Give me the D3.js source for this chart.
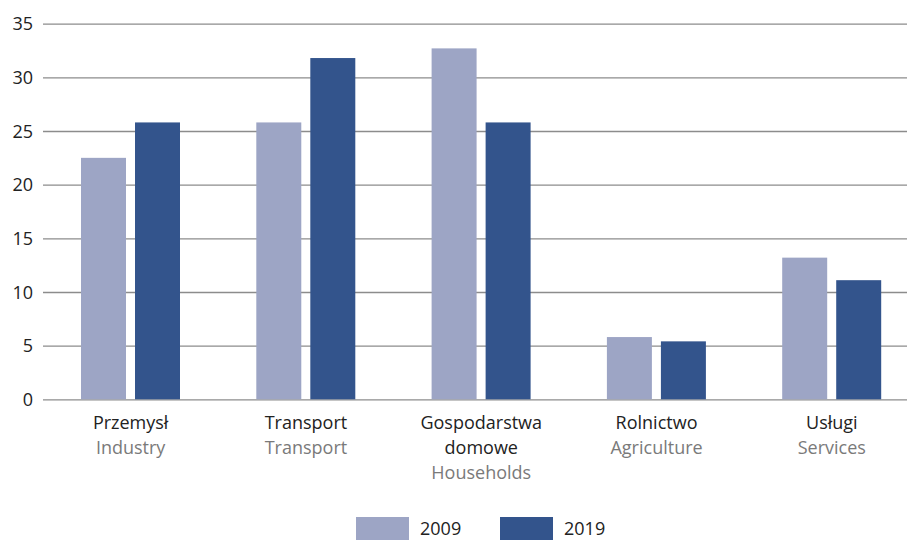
<!DOCTYPE html>
<html><head><meta charset="utf-8">
<script src="https://cdn.jsdelivr.net/npm/d3@7"></script>
<style>body{margin:0;background:#fff}svg{display:block}text{font-family:"Open Sans",sans-serif}</style>
</head><body>
<svg id="c" width="907" height="540"></svg>
<script>
const categoriesPL = [["Przemysł"], ["Transport"], ["Gospodarstwa", "domowe"], ["Rolnictwo"], ["Usługi"]];
const categoriesEN = ["Industry", "Transport", "Households", "Agriculture", "Services"];
const seriesNames = ["2009", "2019"];
const values2009 = [22.5, 25.8, 32.7, 5.8, 13.2];
const values2019 = [25.8, 31.8, 25.8, 5.4, 11.1];
const yTicks = [0, 5, 10, 15, 20, 25, 30, 35];
const colors = ["#9da5c5", "#33548c"];

const svg = d3.select("#c");
const x0 = d3.scaleBand().domain(d3.range(categoriesEN.length)).range([43, 919.5]).paddingInner(0).paddingOuter(0);
const x1 = d3.scaleBand().domain([0, 1]).range([38, 137]).paddingInner(0.167).paddingOuter(0);
const y = d3.scaleLinear().domain([0, 35]).range([399.3, 23.7]);

// gridlines
const yAxis = d3.axisLeft(y).tickValues(yTicks).tickSize(-(907 - 43)).tickPadding(10).tickFormat(d3.format("d"));
const g = svg.append("g").attr("transform", "translate(43,0)").call(yAxis);
g.select(".domain").remove();
g.selectAll(".tick line").attr("stroke", "#8c8c8c").attr("stroke-width", 1.3);
g.selectAll(".tick text").attr("font-size", 18).attr("fill", "#222").attr("x", -10).attr("dy", "0.34em");

const series = [values2009, values2019];
series.forEach((vals, si) => {
  svg.append("g").selectAll("rect").data(vals).join("rect")
    .attr("x", (d, i) => x0(i) + x1(si))
    .attr("width", x1.bandwidth())
    .attr("y", d => y(d))
    .attr("height", d => y(0) - y(d))
    .attr("fill", colors[si]);
});

// category labels
const lab = svg.append("g");
categoriesEN.forEach((en, i) => {
  const cx = x0(i) + x0.bandwidth() / 2;
  const pl = categoriesPL[i];
  pl.forEach((t, k) => {
    lab.append("text").attr("x", cx).attr("y", 429 + k * 25).attr("text-anchor", "middle")
      .attr("font-size", 18).attr("fill", "#222").text(t);
  });
  lab.append("text").attr("x", cx).attr("y", 429 + pl.length * 25).attr("text-anchor", "middle")
    .attr("font-size", 18).attr("fill", "#7a7a7a").text(en);
});

// legend
const legX = [356, 500];
seriesNames.forEach((s, i) => {
  svg.append("rect").attr("x", legX[i]).attr("y", 517).attr("width", 53).attr("height", 23).attr("fill", colors[i]);
  svg.append("text").attr("x", legX[i] + 64).attr("y", 535).attr("font-size", 18).attr("fill", "#222").text(s);
});
</script>
</body></html>
